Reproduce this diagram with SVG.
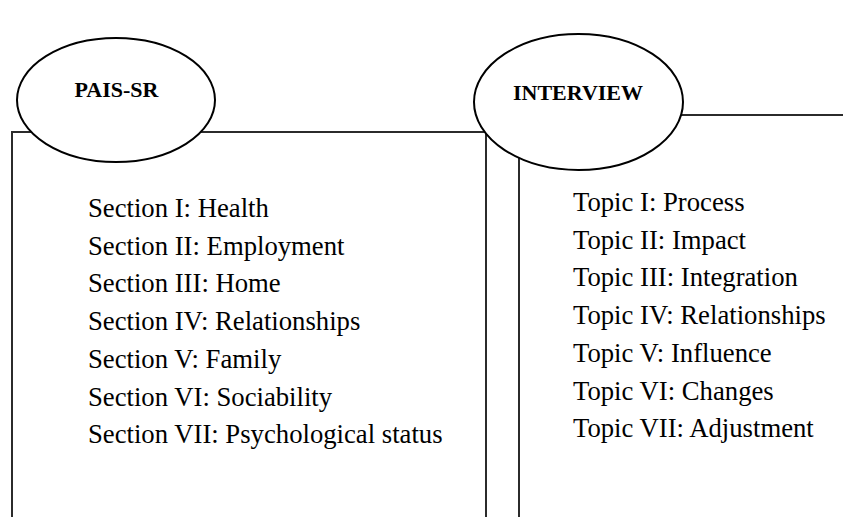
<svg xmlns="http://www.w3.org/2000/svg" width="843" height="517" viewBox="0 0 843 517">
<style>
.frame{fill:none;stroke:#2b2b2b;stroke-width:2}
.oval{fill:#ffffff;stroke:#000000;stroke-width:2}
.title{font-family:"Liberation Serif","Times New Roman",serif;font-weight:bold;font-size:22px;fill:#000;text-anchor:middle}
.item{font-family:"Liberation Serif","Times New Roman",serif;font-size:26.7px;fill:#000}
</style>
<rect width="843" height="517" fill="#ffffff"/>
<g id="connectors">
<path class="frame" d="M12,517 V132 H486 V517"/>
<path class="frame" d="M519,517 V115 H843"/>
</g>
<g id="pais-sr-list">
<text class="item" x="88" y="217">Section I: Health</text>
<text class="item" x="88" y="254.7">Section II: Employment</text>
<text class="item" x="88" y="292.4">Section III: Home</text>
<text class="item" x="88" y="330.1">Section IV: Relationships</text>
<text class="item" x="88" y="367.8">Section V: Family</text>
<text class="item" x="88" y="405.5">Section VI: Sociability</text>
<text class="item" x="88" y="443.2">Section VII: Psychological status</text>
</g>
<g id="interview-list">
<text class="item" x="573" y="211">Topic I: Process</text>
<text class="item" x="573" y="248.7">Topic II: Impact</text>
<text class="item" x="573" y="286.4">Topic III: Integration</text>
<text class="item" x="573" y="324.1">Topic IV: Relationships</text>
<text class="item" x="573" y="361.8">Topic V: Influence</text>
<text class="item" x="573" y="399.5">Topic VI: Changes</text>
<text class="item" x="573" y="437.2">Topic VII: Adjustment</text>
</g>
<g id="pais-sr">
<ellipse class="oval" cx="116" cy="100" rx="99" ry="62"/>
<text class="title" x="116.5" y="97">PAIS-SR</text>
</g>
<g id="interview">
<ellipse class="oval" cx="578.5" cy="102" rx="104.5" ry="68"/>
<text class="title" x="578" y="100">INTERVIEW</text>
</g>
</svg>
